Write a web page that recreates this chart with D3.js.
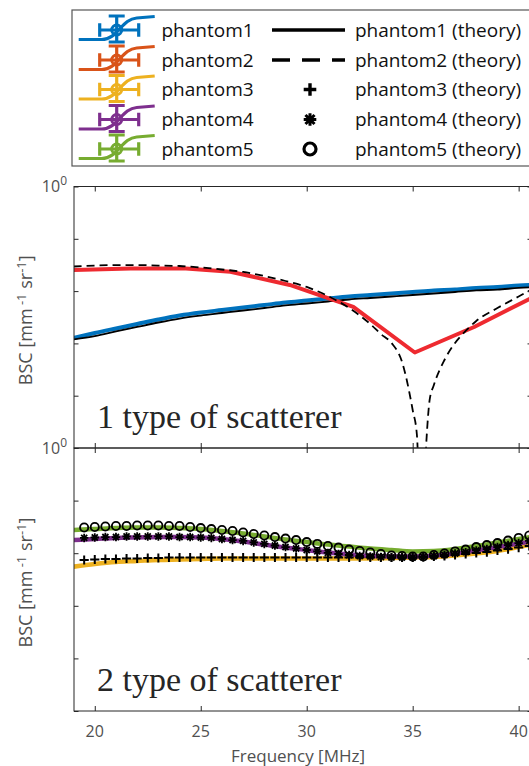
<!DOCTYPE html>
<html>
<head>
<meta charset="utf-8">
<script src="https://cdn.jsdelivr.net/npm/d3@7/dist/d3.min.js"></script>
<style>
body{margin:0;background:#fff;overflow:hidden;}
svg{display:block;font-family:"Open Sans",sans-serif;}
</style>
</head>
<body>
<script>
//legend / axis labels
var phantomNames = ['phantom1','phantom2','phantom3','phantom4','phantom5'];
var theoryNames = ['phantom1 (theory)','phantom2 (theory)','phantom3 (theory)','phantom4 (theory)','phantom5 (theory)'];
var legendColors = ['#0072BD','#D95319','#EDB120','#7E2F8E','#77AC30'];
var xTicks = [20,25,30,35,40];
var yTicks = [1e-5,1e-4,1e-3,1e-2,1e-1,1];
var panelTitles = ['1 type of scatterer','2 type of scatterer'];

//top panel data (MHz, mm^-1 sr^-1)
var freqLine = [19,20,21,22,23,24,25,26,27,28,29,30,31,32,33,34,35,36,37,38,39,40,41];
var phantom1 = [0.00127,0.00158,0.00193,0.00235,0.00286,0.00341,0.00390,0.00435,0.00486,0.00542,0.00605,0.00661,0.00723,0.00788,0.00842,0.00900,0.00962,0.0103,0.0107,0.0115,0.0120,0.0128,0.0134];
var phantom1Theory = [0.00119,0.00138,0.00169,0.00206,0.00251,0.00299,0.00341,0.00381,0.00426,0.00475,0.00531,0.00579,0.00633,0.00691,0.00738,0.00788,0.00842,0.00900,0.00962,0.0103,0.0107,0.0115,0.0120];
var freqPhantom2 = [19,21.7,24.3,26.4,29.2,32.2,35.1,37.9,40.6];
var phantom2 = [0.0253,0.0271,0.0271,0.0235,0.0131,0.00497,0.000670,0.00206,0.00738];
var freqPhantom2Theory = [19,20,21,22,23,24,25,26,27,28,29,30,31,32,33,33.5,34,34.5,35,35.2,35.42,35.65,35.8,36,36.5,37,37.5,38,39,40,41];
var phantom2Theory = [0.0295,0.0308,0.0315,0.0315,0.0308,0.0302,0.0283,0.0259,0.0232,0.0194,0.0156,0.0120,0.00806,0.00475,0.00235,0.00151,0.00102,0.000441,0.0000533,0.0000177,0.0000001,0.0000142,0.0000828,0.000160,0.000482,0.00102,0.00173,0.00268,0.00475,0.00788,0.0131];

//bottom panel data
var phantom3 = [0.00554,0.00623,0.00681,0.00711,0.00743,0.00759,0.00776,0.00793,0.00793,0.00793,0.00793,0.00793,0.00793,0.00793,0.00793,0.00811,0.00829,0.00847,0.00904,0.00987,0.0110,0.0131,0.0156];
var phantom4 = [0.0178,0.0186,0.0195,0.0199,0.0203,0.0203,0.0199,0.0186,0.0167,0.0146,0.0128,0.0115,0.0103,0.00945,0.00885,0.00866,0.00866,0.00904,0.00987,0.0113,0.0131,0.0153,0.0178];
var phantom5 = [0.0276,0.0288,0.0301,0.0308,0.0308,0.0301,0.0288,0.0264,0.0237,0.0208,0.0182,0.0163,0.0146,0.0134,0.0123,0.0115,0.0108,0.0110,0.0120,0.0137,0.0160,0.0186,0.0217];
var freqMarker = [19.5,20,20.5,21,21.5,22,22.5,23,23.5,24,24.5,25,25.5,26,26.5,27,27.5,28,28.5,29,29.5,30,30.5,31,31.5,32,32.5,33,33.5,34,34.5,35,35.5,36,36.5,37,37.5,38,38.5,39,39.5,40,40.5];
var phantom3Theory = [0.00743,0.00759,0.00776,0.00776,0.00793,0.00793,0.00811,0.00811,0.00829,0.00829,0.00829,0.00829,0.00829,0.00829,0.00829,0.00829,0.00829,0.00829,0.00829,0.00829,0.00829,0.00829,0.00829,0.00829,0.00829,0.00829,0.00829,0.00829,0.00829,0.00829,0.00829,0.00829,0.00847,0.00866,0.00885,0.00924,0.00966,0.0101,0.0105,0.0113,0.0120,0.0128,0.0137];
var phantom4Theory = [0.0195,0.0199,0.0203,0.0203,0.0208,0.0208,0.0208,0.0208,0.0208,0.0203,0.0203,0.0199,0.0195,0.0186,0.0178,0.0171,0.0160,0.0150,0.0140,0.0131,0.0123,0.0115,0.0108,0.0101,0.00966,0.00924,0.00885,0.00866,0.00847,0.00829,0.00829,0.00829,0.00847,0.00885,0.00924,0.00987,0.0105,0.0113,0.0120,0.0131,0.0143,0.0156,0.0171];
var phantom5Theory = [0.0308,0.0315,0.0322,0.0329,0.0329,0.0336,0.0336,0.0336,0.0329,0.0329,0.0315,0.0301,0.0288,0.0276,0.0264,0.0248,0.0232,0.0217,0.0203,0.0190,0.0178,0.0163,0.0150,0.0137,0.0128,0.0117,0.0110,0.0103,0.00966,0.00904,0.00885,0.00866,0.00866,0.00924,0.00987,0.0108,0.0117,0.0131,0.0143,0.0156,0.0174,0.0195,0.0217];

//layout
var width = 529, height = 766;
var plotLeft = 74, plotRight = 532;
var panels = [{top:186.5, bottom:448}, {top:448, bottom:711}];
var axisColor = '#262626', labelColor = '#505050';

var svg = d3.select('body').append('svg')
	.attr('width', width)
	.attr('height', height);

var x = d3.scaleLinear().domain([19.02, 40.63]).range([plotLeft, plotRight]);
panels.forEach(function(p){
	p.y = d3.scaleLog().domain([1e-5, 1]).range([p.bottom, p.top]);
});

function zip(xs, ys){
	return xs.map(function(f, i){ return [f, ys[i]]; });
}

//draws one series as a path inside a panel
function drawLine(g, p, data, color, lw, curve, dash){
	var line = d3.line()
		.x(function(d){ return x(d[0]); })
		.y(function(d){ return p.y(d[1]); })
		.curve(curve);
	g.append('path')
		.datum(data)
		.attr('d', line)
		.attr('fill', 'none')
		.attr('stroke', color)
		.attr('stroke-width', lw)
		.attr('stroke-linejoin', 'round')
		.attr('stroke-dasharray', dash || null);
}

function markerPath(type, s){
	if(type === 'plus') return 'M'+(-s)+',0H'+s+'M0,'+(-s)+'V'+s;
	var k = s*0.72;
	return 'M'+(-s)+',0H'+s+'M0,'+(-s)+'V'+s+'M'+(-k)+','+(-k)+'L'+k+','+k+'M'+(-k)+','+k+'L'+k+','+(-k);
}

function drawMarkers(g, p, data, type){
	var sel = g.selectAll(null).data(data).enter();
	if(type === 'circle'){
		sel.append('circle')
			.attr('cx', function(d){ return x(d[0]); })
			.attr('cy', function(d){ return p.y(d[1]); })
			.attr('r', 4.1)
			.attr('fill', 'none')
			.attr('stroke', '#000')
			.attr('stroke-width', 1.9);
	} else {
		sel.append('path')
			.attr('transform', function(d){ return 'translate('+x(d[0])+','+p.y(d[1])+')'; })
			.attr('d', markerPath(type, type === 'plus' ? 4.6 : 4.2))
			.attr('stroke', '#000')
			.attr('stroke-width', type === 'plus' ? 2 : 1.8)
			.attr('fill', 'none');
	}
}

//clip paths
var defs = svg.append('defs');
panels.forEach(function(p, i){
	defs.append('clipPath').attr('id', 'clip'+i)
		.append('rect')
		.attr('x', plotLeft).attr('y', p.top)
		.attr('width', plotRight-plotLeft).attr('height', p.bottom-p.top);
});

//TOP PANEL =================================================
var g0 = svg.append('g').attr('clip-path', 'url(#clip0)');
var p0 = panels[0];
drawLine(g0, p0, zip(freqLine, phantom1), '#0072BD', 4, d3.curveMonotoneX);
drawLine(g0, p0, zip(freqLine, phantom1Theory), '#000', 1.8, d3.curveMonotoneX);
drawLine(g0, p0, zip(freqPhantom2, phantom2), '#EE2A30', 4, d3.curveLinear);
drawLine(g0, p0, zip(freqPhantom2Theory, phantom2Theory), '#000', 1.8, d3.curveMonotoneX, '8,5');

//BOTTOM PANEL ==============================================
var g1 = svg.append('g').attr('clip-path', 'url(#clip1)');
var p1 = panels[1];
drawLine(g1, p1, zip(freqLine, phantom3), '#EDB120', 4.5, d3.curveMonotoneX);
drawLine(g1, p1, zip(freqLine, phantom4), '#7E2F8E', 4.5, d3.curveMonotoneX);
drawLine(g1, p1, zip(freqLine, phantom5), '#77AC30', 4.5, d3.curveMonotoneX);
drawMarkers(g1, p1, zip(freqMarker, phantom3Theory), 'plus');
drawMarkers(g1, p1, zip(freqMarker, phantom4Theory), 'star');
drawMarkers(g1, p1, zip(freqMarker, phantom5Theory), 'circle');

//AXES ======================================================
panels.forEach(function(p, i){
	svg.append('g').attr('transform', 'translate(' + plotLeft + ',0)')
		.call(d3.axisLeft(p.y).tickValues(yTicks).tickSize(-4.5).tickSizeOuter(0).tickFormat(''));
	svg.append('g').attr('transform', 'translate(' + plotRight + ',0)')
		.call(d3.axisRight(p.y).tickValues(yTicks).tickSize(-4.5).tickSizeOuter(0).tickFormat(''));
	svg.append('g').attr('transform', 'translate(0,' + p.top + ')')
		.call(d3.axisTop(x).tickValues(xTicks).tickSize(-5).tickSizeOuter(0).tickFormat(''));
	svg.append('g').attr('transform', 'translate(0,' + p.bottom + ')')
		.call(d3.axisBottom(x).tickValues(xTicks).tickSize(-5).tickSizeOuter(0).tickFormat(''));

	svg.append('rect')
		.attr('x', plotLeft).attr('y', p.top)
		.attr('width', plotRight-plotLeft).attr('height', p.bottom-p.top)
		.attr('fill', 'none').attr('stroke', axisColor).attr('stroke-width', 1);

	//only the 10^0 label is shown
	var t = svg.append('text')
		.attr('x', plotLeft-7).attr('y', p.y(1)+5.5)
		.attr('text-anchor', 'end')
		.attr('fill', labelColor)
		.style('font-size', '16px');
	t.append('tspan').text('10');
	t.append('tspan').attr('dy', -7).style('font-size', '12px').text('0');

	//y label
	var yl = svg.append('text')
		.attr('transform', 'translate(32,' + ((p.top+p.bottom)/2+3) + ') rotate(-90)')
		.attr('text-anchor', 'middle')
		.attr('fill', labelColor)
		.style('font-size', '18px');
	yl.append('tspan').text('BSC [mm');
	yl.append('tspan').attr('dy', -6).style('font-size', '13px').text(' -1');
	yl.append('tspan').attr('dy', 6).text(' sr');
	yl.append('tspan').attr('dy', -6).style('font-size', '13px').text('-1');
	yl.append('tspan').attr('dy', 6).text(']');

	//panel title
	svg.append('text')
		.attr('x', 97).attr('y', p.bottom-20)
		.attr('fill', '#262626')
		.style('font-family', '"Liberation Serif", "Times New Roman", serif')
		.style('font-size', '34px')
		.text(panelTitles[i]);
});
svg.selectAll('.domain').remove();
svg.selectAll('.tick line').attr('stroke', axisColor);

//x tick labels and title
svg.selectAll('.xlab').data(xTicks).enter().append('text')
	.attr('x', function(d){ return x(d); })
	.attr('y', 736.5)
	.attr('text-anchor', 'middle')
	.attr('fill', labelColor)
	.style('font-size', '16px')
	.text(function(d){ return d; });
svg.append('text')
	.attr('x', 298).attr('y', 762)
	.attr('text-anchor', 'middle')
	.attr('fill', labelColor)
	.style('font-size', '17px')
	.text('Frequency [MHz]');

//LEGEND ====================================================
var rowY = [30, 60, 89.5, 119.5, 149];
svg.append('rect')
	.attr('x', 72).attr('y', 10)
	.attr('width', 480).attr('height', 156)
	.attr('fill', '#fff')
	.attr('stroke', '#555')
	.attr('stroke-width', 1.2);

var icon = 'M-38,9.5L-15,9.5C1,9.5 5,-11 20,-12L38,-13.5' +
	'M-17,0H22M-17,-6.7V6.7M22,-6.7V6.7' +
	'M0,-14V12M-8,-14H8M-8,12H8';
phantomNames.forEach(function(name, i){
	var g = svg.append('g').attr('transform', 'translate(116.7,' + rowY[i] + ')');
	g.append('path').attr('d', icon)
		.attr('fill', 'none').attr('stroke', legendColors[i]).attr('stroke-width', 3.2);
	g.append('circle').attr('r', 5)
		.attr('fill', 'none').attr('stroke', legendColors[i]).attr('stroke-width', 3);
	svg.append('text')
		.attr('x', 161.5).attr('y', rowY[i]+6.7)
		.attr('fill', '#111')
		.style('font-size', '19px')
		.text(name);
});

theoryNames.forEach(function(name, i){
	var cy = rowY[i];
	if(i === 0){
		svg.append('line').attr('x1', 272).attr('x2', 345).attr('y1', cy).attr('y2', cy)
			.attr('stroke', '#000').attr('stroke-width', 3.3);
	} else if(i === 1){
		svg.append('line').attr('x1', 272).attr('x2', 345).attr('y1', cy).attr('y2', cy)
			.attr('stroke', '#000').attr('stroke-width', 3.3)
			.attr('stroke-dasharray', '18,12');
	} else if(i === 4){
		svg.append('circle').attr('cx', 310).attr('cy', cy).attr('r', 6)
			.attr('fill', 'none').attr('stroke', '#000').attr('stroke-width', 3.2);
	} else {
		svg.append('path').attr('transform', 'translate(310,' + cy + ')')
			.attr('d', markerPath(i === 2 ? 'plus' : 'star', 6.3))
			.attr('fill', 'none').attr('stroke', '#000').attr('stroke-width', i === 2 ? 3.4 : 3);
	}
	svg.append('text')
		.attr('x', 355).attr('y', cy+6.7)
		.attr('fill', '#111')
		.style('font-size', '19px')
		.text(name);
});
</script>
</body>
</html>
